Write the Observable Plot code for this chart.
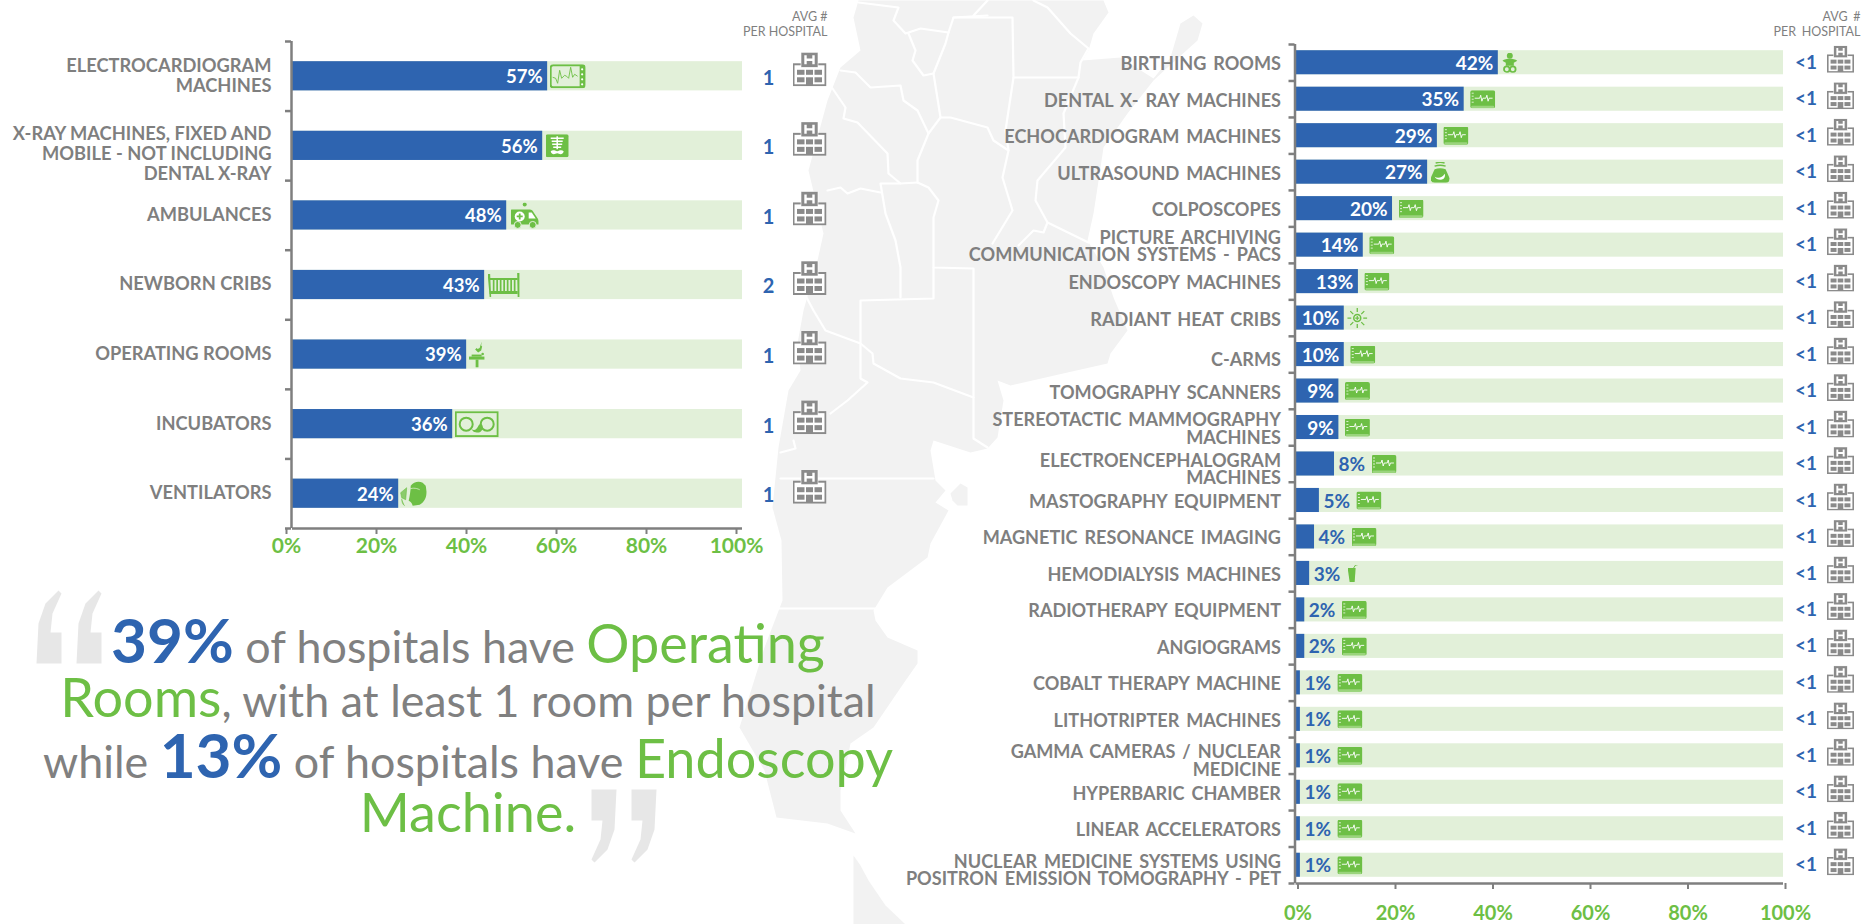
<!DOCTYPE html>
<html><head><meta charset="utf-8">
<script src="https://cdn.jsdelivr.net/npm/d3@7"></script>
<script src="https://cdn.jsdelivr.net/npm/@observablehq/plot@0.6"></script>
<style>
html,body{margin:0;padding:0;background:#fff;}
#page{position:relative;width:1874px;height:924px;overflow:hidden;}
#page svg{position:absolute;left:0;top:0;background:transparent;}
</style></head><body><div id="page"></div>
<script>
// ---------- data ----------
const leftLabels=["ELECTROCARDIOGRAM\nMACHINES","X-RAY MACHINES, FIXED AND\nMOBILE - NOT INCLUDING\nDENTAL X-RAY","AMBULANCES","NEWBORN CRIBS","OPERATING ROOMS","INCUBATORS","VENTILATORS"];
const leftValues=[56.7,55.6,47.6,42.7,38.7,35.6,23.6];
const leftAvg=["1","1","1","2","1","1","1"];
const leftIcons=["monitorLine","xray","ambulance","crib","surgery","incubator","ventilator"];
const rightLabels=["BIRTHING ROOMS","DENTAL X- RAY MACHINES","ECHOCARDIOGRAM MACHINES","ULTRASOUND MACHINES","COLPOSCOPES","PICTURE ARCHIVING\nCOMMUNICATION SYSTEMS - PACS","ENDOSCOPY MACHINES","RADIANT HEAT CRIBS","C-ARMS","TOMOGRAPHY SCANNERS","STEREOTACTIC MAMMOGRAPHY\nMACHINES","ELECTROENCEPHALOGRAM\nMACHINES","MASTOGRAPHY EQUIPMENT","MAGNETIC RESONANCE IMAGING","HEMODIALYSIS MACHINES","RADIOTHERAPY EQUIPMENT","ANGIOGRAMS","COBALT THERAPY MACHINE","LITHOTRIPTER MACHINES","GAMMA CAMERAS / NUCLEAR\nMEDICINE","HYPERBARIC CHAMBER","LINEAR ACCELERATORS","NUCLEAR MEDICINE SYSTEMS USING\nPOSITRON EMISSION TOMOGRAPHY - PET"];
const rightValues=[41.5,34.5,29,27,19.8,13.8,12.8,9.9,9.9,8.8,8.8,7.9,4.8,3.8,2.8,1.8,1.8,0.9,0.9,0.9,0.9,0.9,0.9];
const rightAvg=rightValues.map(()=>"<1");
const rightIcons=["baby","monitor","monitor","ultrasound","monitor","monitor","monitor","sun","monitor","monitor","monitor","monitor","monitor","monitor","cup","monitor","monitor","monitor","monitor","monitor","monitor","monitor","monitor"];
const axisTicks=[0,20,40,60,80,100];

// ---------- background map (page outline, traced) ----------
const mapOutline=[[858,0],[1103,0],[1108,12],[1093,33],[1088,50],[1082,60],[1120,57],[1153,78],[1170,57],[1180,23],[1193,15],[1202,23],[1197,40],[1167,67],[1153,80],[1127,113],[1103,147],[1097,187],[1093,213],[1087,240],[1103,267],[1113,297],[1127,330],[1110,353],[1107,363],[1067,372],[1010,385],[997,380],[1003,400],[997,437],[987,448],[970,452],[933,440],[930,450],[935,480],[945,490],[935,502],[948,510],[930,543],[927,557],[887,587],[873,610],[875,620],[887,637],[917,650],[917,663],[903,683],[873,727],[850,743],[840,790],[840,810],[855,833],[827,823],[776,817],[764,770],[739,727],[764,647],[782,600],[781,540],[772,507],[778,447],[788,390],[800,370],[797,343],[803,310],[817,260],[823,233],[808,170],[827,100],[840,67],[860,50],[853,17]];
const mapIsland=[[950,493],[960,483],[967,487],[967,505],[957,505],[952,500]];
const mapTip=[[853,855],[860,865],[868,880],[885,905],[905,924],[853,924]];
const mapBorders=[
[[987,0],[973,15]],
[[987,15],[953,17],[948,32],[945,43],[933,73],[940,117],[928,133],[917,160],[917,182]],
[[953,17],[1012,17],[1013,77],[1078,77],[1080,62],[1088,48],[1070,33],[1047,7],[1033,0]],
[[1078,77],[1063,113],[1065,147],[1037,180],[1035,200],[1047,222],[1088,242]],
[[1013,77],[1005,130],[1008,150],[1002,177],[1012,210],[992,243]],
[[940,117],[950,117],[987,127],[993,140],[1008,150]],
[[1047,222],[1043,232],[1033,230],[1018,245]],
[[858,2],[898,7],[893,20],[905,33],[920,28],[948,32]],
[[908,33],[915,50],[912,60],[923,75],[933,73]],
[[840,70],[855,72],[870,87],[900,85],[903,100],[917,110],[928,133]],
[[830,85],[845,107],[843,118],[857,122],[887,153],[888,173],[900,183],[917,182]],
[[917,182],[928,187],[938,200],[933,217],[933,267],[973,268],[973,438],[987,447]],
[[933,267],[933,298],[860,300],[860,378],[867,382],[847,400],[830,413]],
[[900,297],[900,267],[895,240],[885,213],[880,183],[900,183]],
[[827,190],[840,187],[847,193],[860,188],[880,192]],
[[805,295],[813,310],[825,330],[860,343],[872,353],[873,363],[900,378],[933,382],[973,397]],
[[793,440],[795,448],[780,452]],
[[780,478],[933,478]],
[[778,608],[875,608]]
];
// decorative quotation marks behind the quote
const quoteMark=[[36,663],[61,663],[61,632],[50,632],[52,613],[61,593],[58,590],[45,603],[38,623]];
const quoteMarks=[
  quoteMark,
  quoteMark.map(([x,y])=>[x+40,y]),
  quoteMark.map(([x,y])=>[652-x,1452-y]),
  quoteMark.map(([x,y])=>[692-x,1452-y])
];

// ---------- colours ----------
const blue="#2e64b0",track="#e2f0d9",green="#6dbf45",grey="#7f7f7f",hgrey="#8a8a8a";

// ---------- pictograms ----------
const uri=(w,h,s)=>"data:image/svg+xml;utf8,"+encodeURIComponent(`<svg xmlns="http://www.w3.org/2000/svg" viewBox="0 0 ${w} ${h}" width="${w}" height="${h}">${s}</svg>`);
const G=green;
const pictograms={
 monitor:{w:25,h:18,gap:6,src:uri(25,18,`<rect x="0" y="0" width="25" height="18" rx="2" fill="${G}"/><rect x="1" y="15.5" width="23" height="2.5" rx="1" fill="#9ad47c"/><path d="M1.5 3h2M1.5 6h2M1.5 9h2M1.5 12h2" stroke="#d9f0cc" stroke-width="1"/><path d="M4.5 8h5l1-3 1.2 6 1-3h3l1-3 1.2 6 1-3h3.5" stroke="#fff" stroke-width=".9" fill="none"/>`)},
 monitorLine:{w:36,h:24,gap:2,src:uri(36,24,`<rect x="1" y="1" width="34" height="22" rx="2.5" fill="none" stroke="${G}" stroke-width="2"/><rect x="30" y="1" width="5" height="22" fill="${G}"/><path d="M32.5 5v.01M32.5 10v.01M32.5 15v.01M32.5 20v.01" stroke="#fff" stroke-width="2.2" stroke-linecap="round"/><path d="M3 13l3 1 2 5 2-13 2 8 3-3 2 1 2 2 2-11 2 10 2-3 3 2" fill="none" stroke="${G}" stroke-width=".9"/>`)},
 xray:{w:23,h:23,gap:3,src:uri(23,23,`<rect width="23" height="23" rx="2" fill="${G}"/><path d="M11.5 2v13M5 4h13M6 7h11M6.5 10h10M7.5 13h8" stroke="#fff" stroke-width="1.5" fill="none"/><path d="M5 17c2-2 4-1 6.5 0 2.500-1 4.500-2 6.500 0-1 4-4 3-6.500 2-2.500 1-5.500 2-6.500-2z" fill="#fff"/>`)},
 ambulance:{w:28,h:26,gap:4,src:uri(28,26,`<circle cx="14" cy="2" r="2" fill="${G}"/><path d="M1 7h18c2 0 3 1 4 3l4 6c.6 1 1 2 1 3v3H1a1 1 0 0 1-1-1V8a1 1 0 0 1 1-1z" fill="${G}"/><path d="M18 10h3l4 6h-7z" fill="#fff"/><circle cx="9" cy="14" r="5" fill="#fff"/><path d="M9 11v6M6 14h6" stroke="${G}" stroke-width="1.800"/><circle cx="7" cy="22.500" r="3.500" fill="${G}" stroke="${track}" stroke-width="1"/><circle cx="22" cy="22.500" r="3.500" fill="${G}" stroke="${track}" stroke-width="1"/>`)},
 crib:{w:32,h:24,gap:3,src:uri(32,24,`<path d="M0 1h2.500l1 23h-1.500zM32 0v24h-2l-.5-24z" fill="${G}"/><path d="M2 6h28" stroke="${G}" stroke-width="1.800"/><path d="M2 19.500h28" stroke="${G}" stroke-width="3"/><path d="M6 6v14M9.500 6v14M13 6v14M16.500 6v14M20 6v14M23.500 6v14M27 6v14" stroke="${G}" stroke-width="1.700"/>`)},
 surgery:{w:16,h:26,gap:2,src:uri(16,26,`<path d="M13 0l-.5 4 1 1-1 4-3 2-3-3 1.500-1.500 1 1 2-1z" fill="${G}"/><rect x="0" y="15" width="16" height="3" fill="${G}"/><rect x="3" y="13" width="10" height="2" fill="${G}"/><circle cx="14" cy="12.500" r="1.300" fill="${G}"/><rect x="7" y="18" width="2.800" height="8" fill="${G}"/>`)},
 incubator:{w:44,h:26,gap:2,src:uri(44,26,`<rect x="1" y="1" width="42" height="24" fill="none" stroke="${G}" stroke-width="2"/><circle cx="11.500" cy="13" r="6.500" fill="none" stroke="${G}" stroke-width="2"/><circle cx="32.500" cy="13" r="6.500" fill="none" stroke="${G}" stroke-width="2"/><path d="M17 18c3 2 5 0 7-4 2-2 4-1 4 2 0 4-3 6-7 5-2 0-3-1-4-3z" fill="${G}"/>`)},
 ventilator:{w:27,h:26,gap:1,src:uri(27,26,`<path d="M11 5c3-4 8-5 12-3l3 3 1 6c0 6-3 11-7 13l-7 1c-1-3-2-4-4-5 1-5 2-10 2-15z" fill="${G}"/><path d="M1 12l6-5-1 12-4-2zM2 18c0 3 1 6 3 7" fill="${G}" fill-opacity=".75" stroke="${G}" stroke-width=".6"/><path d="M8 9c4-2 8-2 12 0" stroke="#d8eec9" stroke-width=".8" fill="none"/>`)},
 baby:{w:15,h:20,gap:4,src:uri(15,20,`<circle cx="7.500" cy="3" r="3" fill="${G}"/><path d="M0 8c4-2.500 11-2.500 15 0l-3.500 2v3h-8v-3z" fill="${G}"/><circle cx="4.500" cy="16.500" r="2.800" fill="none" stroke="${G}" stroke-width="1.800"/><circle cx="10.500" cy="16.500" r="2.800" fill="none" stroke="${G}" stroke-width="1.800"/>`)},
 ultrasound:{w:19,h:21,gap:3,src:uri(19,21,`<path d="M5 1.500q4.500-2 9 0M4 4.500q5.500-2 11 0" stroke="${G}" stroke-width="1.400" fill="none"/><path d="M4 7.500q5.500-2 11 0l4 9q0 4.500-4 4.500H4q-4 0-4-4.500z" fill="${G}"/><path d="M4 15c3 2 8 1 10-3 1 2 0 6-4 6-3 0-5-1-6-3z" fill="#fff"/>`)},
 sun:{w:20,h:20,gap:3,src:uri(20,20,`<circle cx="10" cy="10" r="3.500" fill="none" stroke="${G}" stroke-width="1.500"/><path d="M10 8v4M8 10h4" stroke="${G}" stroke-width="1.200"/><path d="M10 0v4M10 16v4M0 10h4M16 10h4M3 3l3 3M14 14l3 3M17 3l-3 3M3 17l3-3" stroke="${G}" stroke-width="1.300"/>`)},
 cup:{w:10,h:17,gap:38,src:uri(10,17,`<path d="M0 3h8l-1 14H2z" fill="${G}"/><path d="M6 3l2-3h2" stroke="${G}" stroke-width="1" fill="none"/>`)}
};
const hospital=uri(34,34,`<rect x="1" y="12" width="32" height="21" fill="#fff" stroke="${hgrey}" stroke-width="2"/><rect x="8.500" y="0" width="17" height="15" fill="${hgrey}" stroke="#fff" stroke-width=".6"/><path d="M13 3v9M21 3v9M13 7.500h8" stroke="#fff" stroke-width="2.400"/><g fill="${hgrey}"><rect x="4.500" y="17.500" width="7.500" height="5"/><rect x="13.500" y="17.500" width="7" height="5"/><rect x="22" y="17.500" width="7.500" height="5"/><rect x="4.500" y="25" width="7.500" height="5"/><rect x="13.500" y="25" width="7" height="8"/><rect x="22" y="25" width="7.500" height="5"/></g>`);

// ---------- background ----------
const page=document.getElementById("page");
page.append(Plot.plot({
  width:1874,height:924,margin:0,
  x:{type:"identity",axis:null},y:{type:"identity",axis:null},
  marks:[
    ...[mapOutline,mapIsland,mapTip].map(p=>Plot.line([...p,p[0]],{x:d=>d[0],y:d=>d[1],fill:"#f2f2f2",stroke:"none"})),
    ...mapBorders.map(b=>Plot.line(b,{x:d=>d[0],y:d=>d[1],stroke:"#fff",strokeWidth:2.2,curve:"linear"})),
    ...quoteMarks.map(p=>Plot.line([...p,p[0]],{x:d=>d[0],y:d=>d[1],fill:"#e7e7e7",stroke:"none",curve:"linear"}))
  ]
}));

// ---------- charts ----------
function chart(c){
  const rows=c.labels.map((label,i)=>({i,label,value:c.values[i],avg:c.avg[i],icon:c.icons[i],nudge:(c.nudge[i]||0)}));
  const n=rows.length;
  const pxPerPct=(c.width-c.marginLeft-c.marginRight)/100;
  const lab=t=>({fontFamily:"Lato",fontWeight:700,...t});
  const pct=d=>Math.round(d.value)+"%";
  const inside=rows.filter(d=>d.value>=c.insideFrom), outside=rows.filter(d=>d.value<c.insideFrom);
  return Plot.plot({
    width:c.width,height:c.height,marginLeft:c.marginLeft,marginRight:c.marginRight,marginTop:c.marginTop,marginBottom:c.marginBottom,
    x:{domain:[0,100],axis:null},
    y:{domain:[n,0],axis:null},
    style:{background:"transparent",wordSpacing:c.wordSpacing},
    marks:[
      Plot.rect(rows,{x1:0,x2:100,y1:d=>d.i+c.barLo,y2:d=>d.i+1-c.barLo,fill:track}),
      Plot.rect(rows,{x1:0,x2:"value",y1:d=>d.i+c.barLo,y2:d=>d.i+1-c.barLo,fill:blue}),
      Plot.ruleX([0],{y1:0,y2:n,stroke:grey,strokeWidth:2.5,dx:c.axisDx}),
      Plot.ruleY(d3.range(n+1),{x1:-6/pxPerPct,x2:0,stroke:grey,strokeWidth:2.5,dx:c.axisDx}),
      Plot.ruleY([n],{x1:0,x2:100,stroke:grey,strokeWidth:2.5}),
      Plot.axisX({ticks:axisTicks,tickFormat:d=>d+"%",tickSize:6,tickPadding:c.tickPadding,stroke:grey,strokeWidth:2,fill:green,fontSize:c.tickFont,fontFamily:"Lato",fontWeight:700,label:null,dx:c.tickDx}),
      Plot.text(rows,lab({x:0,y:d=>d.i+.5+d.nudge,text:"label",textAnchor:"end",dx:c.labelDx,dy:c.labelDy,fontSize:c.labelFont,lineHeight:c.labelLine,fill:grey})),
      Plot.text(inside,lab({x:"value",y:d=>d.i+.5,text:pct,textAnchor:"end",dx:-5,dy:1,fontSize:c.pctFont,fill:"#fff"})),
      Plot.text(outside,lab({x:"value",y:d=>d.i+.5,text:pct,textAnchor:"start",dx:4,dy:1,fontSize:c.pctFont,fill:blue})),
      Plot.image(rows,{x:d=>d.value+(d.value<c.insideFrom&&d.icon==="monitor"?37:pictograms[d.icon].gap)/pxPerPct+pictograms[d.icon].w/2/pxPerPct,y:d=>d.i+.5,width:d=>pictograms[d.icon].w,height:d=>pictograms[d.icon].h,src:d=>pictograms[d.icon].src,preserveAspectRatio:"none"}),
      Plot.text(rows,lab({x:100,y:d=>d.i+.5,text:"avg",dx:c.avgDx,dy:c.avgDy,fontSize:c.avgFont,fill:blue})),
      Plot.image(rows,{x:100,y:d=>d.i+.5,dx:c.hospDx,dy:c.hospDy,width:c.hospSize,height:c.hospSize,src:()=>hospital}),
      Plot.text(["AVG #\nPER HOSPITAL"],{x:100,y:c.headRow,text:d=>d,dx:c.headDx,textAnchor:"end",fontFamily:"Lato",fontSize:12.5,lineHeight:1.2,fill:grey})
    ]
  });
}
page.append(chart({
  labels:leftLabels,values:leftValues,avg:leftAvg,icons:leftIcons,nudge:[0,.13,0,0,0,0,0],
  width:900,height:600,marginLeft:292,marginRight:158,marginTop:41,marginBottom:72,
  barLo:.29,axisDx:-1,tickPadding:4,tickDx:-6,tickFont:21,insideFrom:9,wordSpacing:"0px",
  labelDx:-21,labelDy:-1,labelFont:18.3,labelLine:1.09,pctFont:18.5,
  avgDx:26,avgDy:2,avgFont:20,hospDx:67,hospDy:-7,hospSize:34,headRow:-.25,headDx:85
}));
page.append(chart({
  labels:rightLabels,values:rightValues,avg:rightAvg,icons:rightIcons,
  nudge:[0,0,0,0,0,0,0,0,.1,0,0,.1,0,0,0,0,0,0,0,.1,0,0,.1],
  width:1874,height:924,marginLeft:1295.5,marginRight:91,marginTop:44,marginBottom:41,
  barLo:.17,axisDx:-1,tickPadding:16,tickDx:2,tickFont:20,insideFrom:8.5,wordSpacing:"2.5px",
  labelDx:-15,labelDy:2,labelFont:18.1,labelLine:.95,pctFont:19,
  avgDx:22.5,avgDy:0,avgFont:19,hospDx:57,hospDy:-3.5,hospSize:27,headRow:-.56,headDx:77
}));

// ---------- quote ----------
const quoteLines=[
  {baseline:663,parts:[["39%","b"],[" of hospitals have ","t"],["Operating","g"]]},
  {baseline:717,parts:[["Rooms","g"],[", with at least 1 room per hospital","t"]]},
  {baseline:778,parts:[["while ","t"],["13%","b"],[" of hospitals have ","t"],["Endoscopy","g"]]},
  {baseline:832,parts:[["Machine.","g"]]}
];
const quoteStyle={b:{size:62,fill:blue,weight:700},t:{size:44.8,fill:"#808080",weight:400},g:{size:54,fill:green,weight:400}};
const qs=d3.create("svg").attr("width",1874).attr("height",924).style("font-family","Lato");
for(const l of quoteLines){
  const t=qs.append("text").attr("x",468).attr("y",l.baseline).attr("text-anchor","middle").style("white-space","pre");
  for(const [s,k] of l.parts){const st=quoteStyle[k];t.append("tspan").attr("font-size",st.size).attr("font-weight",st.weight).attr("fill",st.fill).text(s);}
}
page.append(qs.node());
</script></body></html>
